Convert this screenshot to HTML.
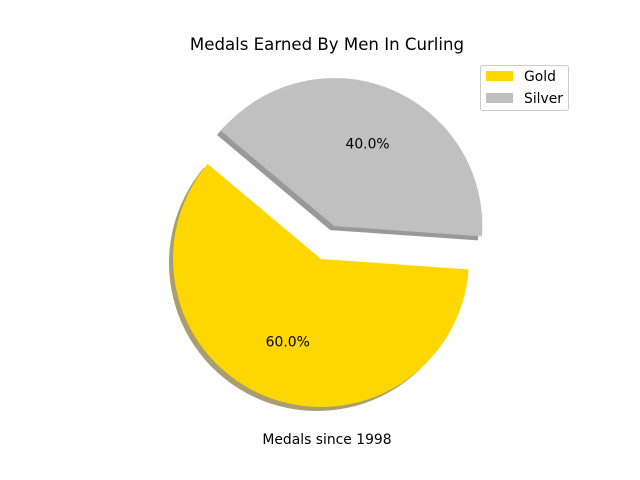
<!DOCTYPE html>
<html><head><meta charset="utf-8"><style>body{margin:0;background:#fff}svg{display:block;font-family:"DejaVu Sans","Liberation Sans",sans-serif}</style></head>
<body>
<svg width="640" height="480" viewBox="0 0 640 480">
<rect width="640" height="480" fill="#fff"/>
<text x="327" y="50" text-anchor="middle" font-size="16.6">Medals Earned By Men In Curling</text>
<g id="pie"></g>
<text x="327" y="444" text-anchor="middle" font-size="13.9">Medals since 1998</text>
<g>
<rect x="480.5" y="65.5" width="88" height="45" rx="2" fill="#fff" stroke="#ccc"/>
<g id="legend"></g>
</g>
</svg>
<script>
const categories = ["Gold", "Silver"];
const values = [60, 40];
const labels = ["60.0%", "40.0%"];
const colors = ["#ffd700", "#c0c0c0"];
const shadowColors = ["#a89e70", "#999999"];
const explode = [0.0, 0.24];
const startAngle = 140;

const NS = "http://www.w3.org/2000/svg";
const baseC = {x: 321, y: 259};
const R = 148;
const pie = document.getElementById('pie');
const total = values.reduce((a,b)=>a+b,0);
function pt(cx, cy, r, deg){ const a = deg*Math.PI/180; return [cx + r*Math.cos(a), cy - r*Math.sin(a)]; }
function wedgePath(cx, cy, a0, a1){
  const p0 = pt(cx,cy,R,a0), p1 = pt(cx,cy,R,a1);
  const large = (a1-a0) > 180 ? 1 : 0;
  return `M${cx},${cy} L${p0[0]},${p0[1]} A${R},${R} 0 ${large} 0 ${p1[0]},${p1[1]} Z`;
}
let ang = startAngle;
const wedges = [];
values.forEach((v,i)=>{
  const a0 = ang, a1 = ang + v/total*360; ang = a1;
  const mid = (a0+a1)/2;
  const off = pt(0,0,explode[i]*R,mid);
  wedges.push({a0,a1,mid,cx: baseC.x+off[0], cy: baseC.y+off[1], i});
});
wedges.forEach(w=>{
  const s = document.createElementNS(NS,'path');
  s.setAttribute('d', wedgePath(w.cx-4, w.cy+4, w.a0, w.a1));
  s.setAttribute('fill', shadowColors[w.i]);
  
  
  pie.appendChild(s);
  const p = document.createElementNS(NS,'path');
  p.setAttribute('d', wedgePath(w.cx, w.cy, w.a0, w.a1));
  p.setAttribute('fill', colors[w.i]);
  
  
  pie.appendChild(p);
});
wedges.forEach(w=>{
  const lp = pt(w.cx, w.cy, R*0.6, w.mid);
  const t = document.createElementNS(NS,'text');
  t.setAttribute('x', lp[0]); t.setAttribute('y', lp[1]+5);
  t.setAttribute('text-anchor','middle'); t.setAttribute('font-size','13.9');
  t.textContent = labels[w.i];
  
  
  pie.appendChild(t);
});
const leg = document.getElementById('legend');
categories.forEach((c,i)=>{
  const y = 76 + i*22;
  const r = document.createElementNS(NS,'rect');
  r.setAttribute('x',486); r.setAttribute('y',y-5); r.setAttribute('width',27); r.setAttribute('height',10);
  r.setAttribute('fill',colors[i]);
  
  
  leg.appendChild(r);
  const t = document.createElementNS(NS,'text');
  t.setAttribute('x',524); t.setAttribute('y',y+5); t.setAttribute('font-size','13.9');
  t.textContent = c;
  
  
  leg.appendChild(t);
});
</script>
</body></html>
